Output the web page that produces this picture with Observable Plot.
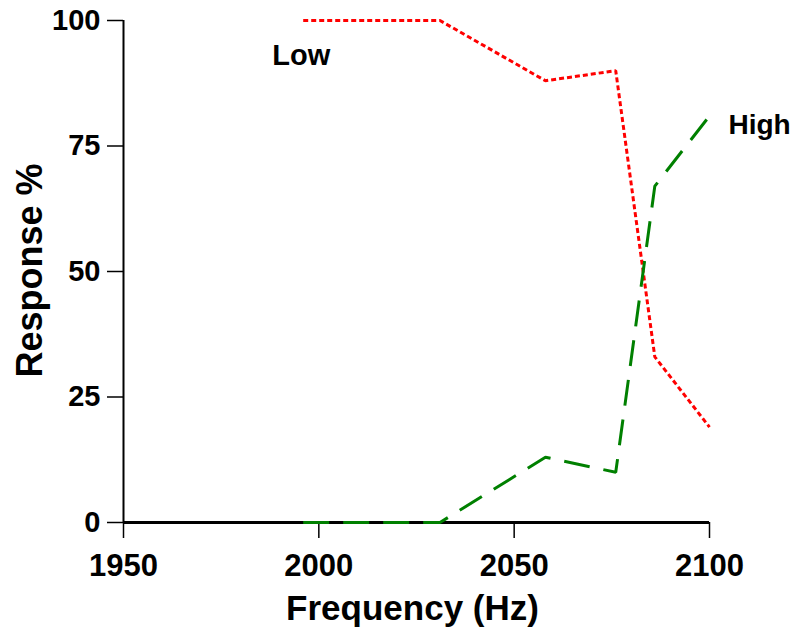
<!DOCTYPE html>
<html>
<head>
<meta charset="utf-8">
<script src="https://cdn.jsdelivr.net/npm/d3@7"></script>
<script src="https://cdn.jsdelivr.net/npm/@observablehq/plot@0.6"></script>
<style>
  html, body { margin: 0; padding: 0; background: #fff; }
</style>
</head>
<body>
<div id="chart"></div>
<script>
const frequency = [1996, 2031, 2058, 2076, 2086, 2100];
const lowResponse = [100, 100, 88, 90, 33, 19];
const highResponse = [0, 0, 13, 10, 67, 81];
const xTicks = [1950, 2000, 2050, 2100];
const yTicks = [0, 25, 50, 75, 100];

const low = frequency.map((f, i) => ({f, v: lowResponse[i], s: "Low"}));
const high = frequency.map((f, i) => ({f, v: highResponse[i], s: "High"}));

const font = "'Liberation Sans', Arial, Helvetica, sans-serif";

const chart = Plot.plot({
  width: 800,
  height: 641,
  marginLeft: 123,
  marginRight: 91,
  marginTop: 20,
  marginBottom: 119,
  style: {fontFamily: font, fontWeight: "bold", color: "#000", background: "#fff", overflow: "visible"},
  x: {domain: [1950, 2100]},
  y: {domain: [0, 100]},
  marks: [
    Plot.axisX({ticks: xTicks, tickFormat: d => String(d), tickSize: 16, tickPadding: 15, fontSize: 31, label: null, strokeWidth: 1.5}),
    Plot.axisY({ticks: yTicks, tickFormat: d => String(d), tickSize: 16, tickPadding: 7, fontSize: 29, label: null, strokeWidth: 1.5}),
    Plot.ruleX([1950], {y1: 0, y2: 100, stroke: "#000", strokeWidth: 2}),
    Plot.ruleY([0], {stroke: "#000", strokeWidth: 3}),
    Plot.line(low, {x: "f", y: "v", stroke: "#ff0000", strokeWidth: 3, strokeDasharray: "5,3", strokeLinecap: "butt", strokeLinejoin: "miter"}),
    Plot.line(high, {x: "f", y: "v", stroke: "#008000", strokeWidth: 3, strokeDasharray: "26,14", strokeLinecap: "butt", strokeLinejoin: "miter"}),
    Plot.text([low[0]], {x: "f", y: "v", text: "s", dx: -31, dy: 35, textAnchor: "start", fontSize: 29, fill: "#000"}),
    Plot.text([high[high.length - 1]], {x: "f", y: "v", text: "s", dx: 19, dy: 9, textAnchor: "start", fontSize: 28, fill: "#000"}),
    Plot.text(["Frequency (Hz)"], {frameAnchor: "bottom", textAnchor: "middle", lineAnchor: "middle", dx: -4, dy: 86, fontSize: 35, fill: "#000"}),
    Plot.text(["Response %"], {frameAnchor: "left", textAnchor: "middle", lineAnchor: "middle", dx: -93.5, dy: -1, rotate: -90, fontSize: 36, fill: "#000"})
  ]
});
document.getElementById("chart").appendChild(chart);
</script>
</body>
</html>
